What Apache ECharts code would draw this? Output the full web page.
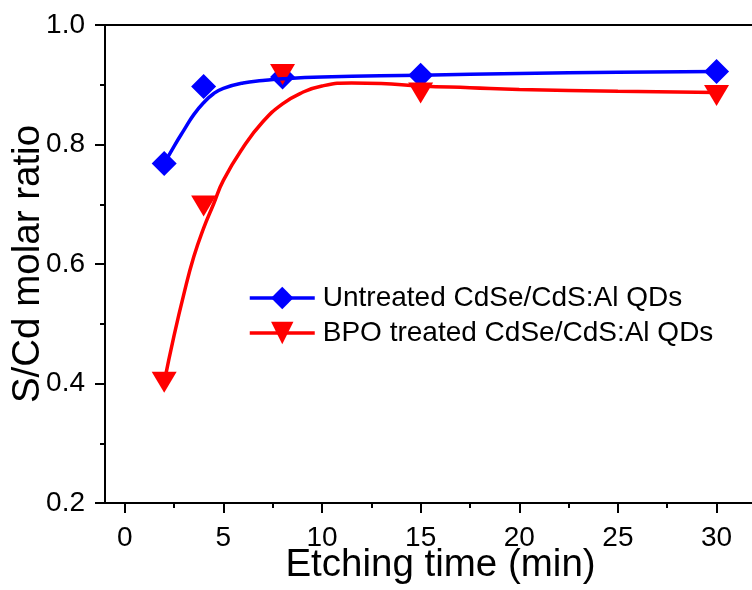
<!DOCTYPE html>
<html>
<head>
<meta charset="utf-8">
<script src="https://cdn.jsdelivr.net/npm/echarts@6/dist/echarts.min.js"></script>
<style>
  html, body { margin: 0; padding: 0; background: #ffffff; }
  #chart { width: 752px; height: 590px; }
</style>
</head>
<body>
<div id="chart"></div>
<script>
// Measured S/Cd molar ratios at each etching time
const etchTimes = [2, 4, 8, 15, 30];
const untreatedRatio = [0.768, 0.897, 0.913, 0.916, 0.922];
const bpoRatio = [0.402, 0.697, 0.917, 0.886, 0.882];

// Fitted trend curves
const untreatedFitX = [2, 2.5, 3, 3.5, 4, 4.5, 5, 6, 7, 8, 10, 15, 20, 25, 30];
const untreatedFitY = [0.768, 0.797, 0.824, 0.850, 0.870, 0.885, 0.894, 0.903, 0.907, 0.910, 0.913, 0.916, 0.919, 0.921, 0.922];
const bpoFitX = [2, 2.5, 3, 3.5, 4, 4.5, 5, 6, 7, 8, 9, 10, 11.5, 13, 15, 17.5, 20, 25, 30];
const bpoFitY = [0.402, 0.480, 0.550, 0.612, 0.660, 0.700, 0.740, 0.795, 0.838, 0.868, 0.887, 0.898, 0.903, 0.902, 0.898, 0.895, 0.892, 0.889, 0.887];

// Axis ticks
const xMajorTicks = [0, 5, 10, 15, 20, 25, 30];
const xMinorTicks = [2.5, 7.5, 12.5, 17.5, 22.5, 27.5];

const seriesNames = ['Untreated CdSe/CdS:Al QDs', 'BPO treated CdSe/CdS:Al QDs'];

const pairs = (xs, ys) => xs.map((x, i) => [x, ys[i]]);

const FONT = 'Liberation Sans, Arial, sans-serif';
const chart = echarts.init(document.getElementById('chart'), null, { renderer: 'canvas' });

chart.setOption({
  backgroundColor: '#ffffff',
  animation: false,
  grid: {
    left: 105, top: 25, right: -4, bottom: 87,
    show: true, borderColor: '#000', borderWidth: 2,
    backgroundColor: 'transparent',
    outerBoundsMode: 'none'
  },
  legend: {
    orient: 'vertical',
    left: 248, top: 284, padding: 0,
    itemWidth: 65, itemHeight: 28, itemGap: 7,
    data: seriesNames,
    lineStyle: { width: 3.5 },
    textStyle: { fontFamily: FONT, fontSize: 28, color: '#000', padding: [0, 0, 0, 3] }
  },
  xAxis: [
    {
      type: 'value', min: -1, max: 32, position: 'bottom',
      name: 'Etching time (min)', nameLocation: 'middle', nameGap: 43, nameMoveOverlap: false,
      nameTextStyle: { fontFamily: FONT, fontSize: 38.5, color: '#000', padding: [0, 0, 0, 20] },
      axisLine: { show: true, onZero: false, lineStyle: { color: '#000', width: 2 } },
      axisTick: { show: true, customValues: xMajorTicks, length: 10, lineStyle: { color: '#000', width: 2 } },
      axisLabel: { customValues: xMajorTicks, margin: 21, fontFamily: FONT, fontSize: 28, color: '#000' },
      splitLine: { show: false }
    },
    {
      type: 'value', min: -1, max: 32, position: 'bottom', offset: 0,
      axisLine: { show: false, onZero: false },
      axisTick: { show: true, customValues: xMinorTicks, length: 5, lineStyle: { color: '#000', width: 2 } },
      axisLabel: { show: false },
      splitLine: { show: false }
    }
  ],
  yAxis: {
    type: 'value', min: 0.2, max: 1.0, interval: 0.2,
    name: 'S/Cd molar ratio', nameLocation: 'middle', nameGap: 57, nameMoveOverlap: false,
    nameTextStyle: { fontFamily: FONT, fontSize: 38.5, color: '#000' },
    axisLine: { show: true, onZero: false, lineStyle: { color: '#000', width: 2 } },
    axisTick: { show: true, length: 10, lineStyle: { color: '#000', width: 2 } },
    minorTick: { show: true, splitNumber: 2, length: 5, lineStyle: { color: '#000', width: 2 } },
    axisLabel: { margin: 20, fontFamily: FONT, fontSize: 28, color: '#000', formatter: v => v.toFixed(1) },
    splitLine: { show: false }
  },
  series: [
    {
      name: seriesNames[0], type: 'line', xAxisIndex: 0,
      data: pairs(untreatedFitX, untreatedFitY),
      smooth: 0.5,
      symbol: 'diamond', showSymbol: false,
      color: '#0000ff',
      lineStyle: { color: '#0000ff', width: 3.5 },
      itemStyle: { color: '#0000ff' }
    },
    {
      name: seriesNames[1], type: 'line', xAxisIndex: 0,
      data: pairs(bpoFitX, bpoFitY),
      smooth: 0.5,
      symbol: 'triangle', symbolRotate: 180, showSymbol: false,
      color: '#ff0000',
      lineStyle: { color: '#ff0000', width: 3.5 },
      itemStyle: { color: '#ff0000' }
    },
    {
      type: 'scatter', xAxisIndex: 0,
      data: pairs(etchTimes, untreatedRatio),
      symbol: 'diamond', symbolSize: [25, 25],
      itemStyle: { color: '#0000ff', opacity: 1 }
    },
    {
      type: 'scatter', xAxisIndex: 0,
      data: pairs(etchTimes, bpoRatio),
      symbol: 'triangle', symbolRotate: 180, symbolSize: [25, 21],
      itemStyle: { color: '#ff0000', opacity: 1 }
    }
  ]
});
</script>
</body>
</html>
